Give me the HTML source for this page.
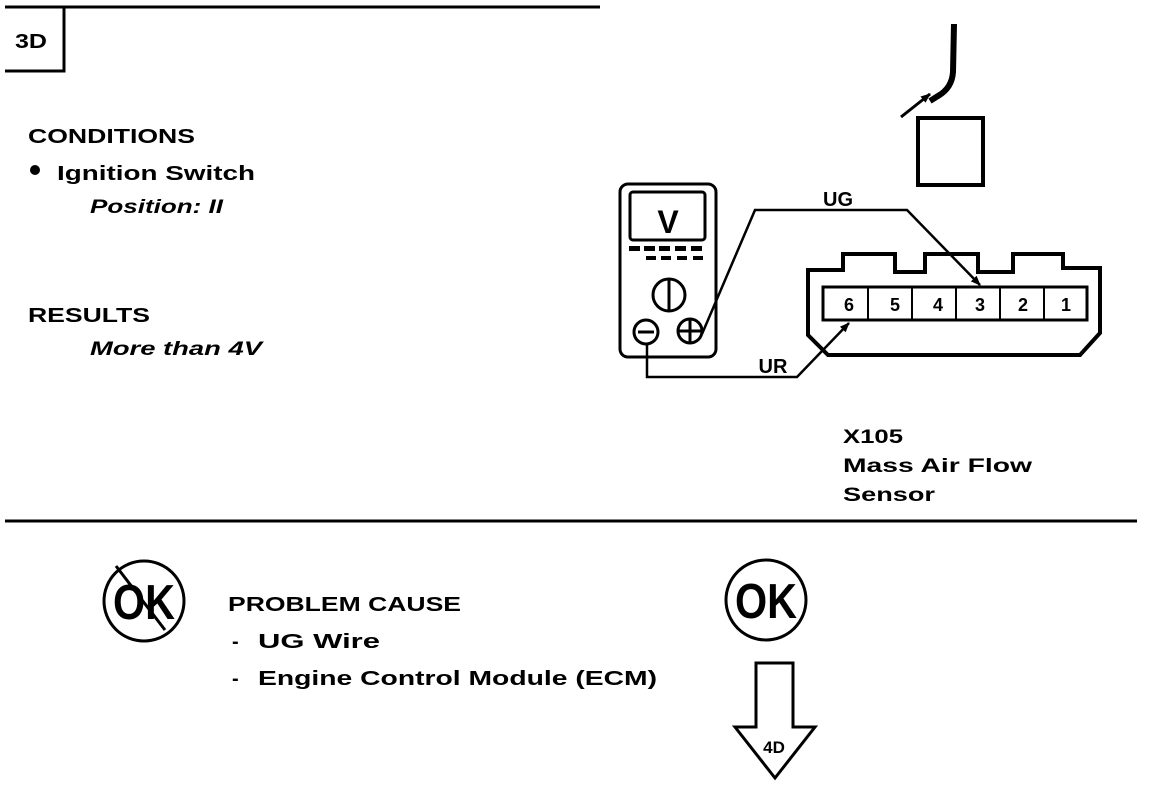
<!DOCTYPE html>
<html><head><meta charset="utf-8"><style>
html,body{margin:0;padding:0;background:#fff;}
svg{display:block;}
text{font-family:"Liberation Sans",sans-serif;font-weight:bold;fill:#000;}
</style></head><body>
<svg width="1152" height="786" viewBox="0 0 1152 786" xmlns="http://www.w3.org/2000/svg">
<defs>
<marker id="ah" markerWidth="10" markerHeight="10" refX="9" refY="5" orient="auto" markerUnits="userSpaceOnUse"><path d="M0,1 L10,5 L0,9 z" fill="#000"/></marker>
</defs>
<g stroke="#000" fill="none">
<line x1="5" y1="7" x2="600" y2="7" stroke-width="3"/>
<polyline points="5,71 64,71 64,7" stroke-width="3"/>
<line x1="5" y1="521" x2="1137" y2="521" stroke-width="3"/>
</g>
<text x="15" y="48" font-size="20" textLength="32" lengthAdjust="spacingAndGlyphs">3D</text>

<text x="28" y="143" font-size="20" textLength="167" lengthAdjust="spacingAndGlyphs">CONDITIONS</text>
<circle cx="35" cy="170" r="5" fill="#000"/>
<text x="57" y="180" font-size="20" textLength="198" lengthAdjust="spacingAndGlyphs">Ignition Switch</text>
<text x="90" y="213" font-size="19" font-style="italic" font-weight="normal" textLength="133" lengthAdjust="spacingAndGlyphs">Position: II</text>
<text x="28" y="322" font-size="20" textLength="122" lengthAdjust="spacingAndGlyphs">RESULTS</text>
<text x="90" y="355" font-size="19" font-style="italic" font-weight="normal" textLength="172" lengthAdjust="spacingAndGlyphs">More than 4V</text>

<g stroke="#000" fill="none">
<path d="M954,24 L953,72 Q952,88 938,96 L930,101" stroke-width="6"/>
<line x1="901" y1="117" x2="930" y2="94" stroke-width="3" marker-end="url(#ah)"/>
<rect x="918" y="118" width="65" height="67" stroke-width="4"/>
</g>

<g stroke="#000" fill="none" stroke-width="3">
<rect x="620" y="184" width="96" height="173" rx="8"/>
<rect x="630" y="192" width="75" height="48" rx="3"/>
<circle cx="669" cy="295" r="16"/>
<line x1="669" y1="279" x2="669" y2="311"/>
<circle cx="646" cy="332" r="12"/>
<line x1="638" y1="332" x2="654" y2="332"/>
<circle cx="690" cy="331" r="12"/>
<line x1="678" y1="331" x2="702" y2="331"/>
<line x1="690" y1="319" x2="690" y2="343"/>
</g>
<text x="668" y="233" font-size="32" text-anchor="middle">V</text>
<g fill="#000">
<rect x="629" y="246" width="11" height="5"/><rect x="644" y="246" width="11" height="5"/><rect x="659" y="246" width="11" height="5"/><rect x="675" y="246" width="11" height="5"/><rect x="691" y="246" width="11" height="5"/>
<rect x="646" y="256" width="10" height="4"/><rect x="661" y="256" width="10" height="4"/><rect x="677" y="256" width="10" height="4"/><rect x="693" y="256" width="10" height="4"/>
</g>

<g stroke="#000" fill="none" stroke-width="2.5">
<polyline points="702,334 755,210 907,210 980,285" marker-end="url(#ah)"/>
<polyline points="647,344 647,377 797,377 849,323" marker-end="url(#ah)"/>
</g>
<text x="838" y="206" font-size="20" text-anchor="middle">UG</text>
<text x="773" y="373" font-size="20" text-anchor="middle">UR</text>

<g stroke="#000" fill="none" stroke-width="4">
<path d="M808,270 L843,270 L843,254 L895,254 L895,272 L925,272 L925,254 L978,254 L978,272 L1013,272 L1013,254 L1063,254 L1063,268 L1100,268 L1100,333 L1080,355 L828,355 L808,335 Z"/>
<rect x="823" y="287" width="264" height="33" stroke-width="3"/>
</g>
<g stroke="#000" stroke-width="2">
<line x1="868" y1="287" x2="868" y2="320"/><line x1="912" y1="287" x2="912" y2="320"/><line x1="956" y1="287" x2="956" y2="320"/><line x1="1000" y1="287" x2="1000" y2="320"/><line x1="1044" y1="287" x2="1044" y2="320"/>
</g>
<g font-size="18" text-anchor="middle">
<text x="849" y="311">6</text><text x="895" y="311">5</text><text x="938" y="311">4</text><text x="980" y="311">3</text><text x="1023" y="311">2</text><text x="1066" y="311">1</text>
</g>
<text x="843" y="443" font-size="19" textLength="60" lengthAdjust="spacingAndGlyphs">X105</text>
<text x="843" y="472" font-size="19" textLength="189" lengthAdjust="spacingAndGlyphs">Mass Air Flow</text>
<text x="843" y="501" font-size="19" textLength="92" lengthAdjust="spacingAndGlyphs">Sensor</text>

<g stroke="#000" fill="none" stroke-width="3">
<circle cx="144" cy="601" r="40"/>
<line x1="116" y1="566" x2="165" y2="630"/>
<circle cx="766" cy="600" r="40"/>
<path d="M756,663 L793,663 L793,727 L815,727 L775,778 L735,727 L756,727 Z"/>
</g>
<text x="144" y="619" font-size="49" text-anchor="middle" textLength="62" lengthAdjust="spacingAndGlyphs">OK</text>
<text x="766" y="618" font-size="49" text-anchor="middle" textLength="62" lengthAdjust="spacingAndGlyphs">OK</text>
<text x="774" y="753" font-size="17" text-anchor="middle">4D</text>
<text x="228" y="611" font-size="20" textLength="233" lengthAdjust="spacingAndGlyphs">PROBLEM CAUSE</text>
<text x="232" y="648" font-size="20">-</text>
<text x="258" y="648" font-size="20" textLength="122" lengthAdjust="spacingAndGlyphs">UG  Wire</text>
<text x="232" y="685" font-size="20">-</text>
<text x="258" y="685" font-size="20" textLength="399" lengthAdjust="spacingAndGlyphs">Engine Control Module (ECM)</text>
</svg>
</body></html>
